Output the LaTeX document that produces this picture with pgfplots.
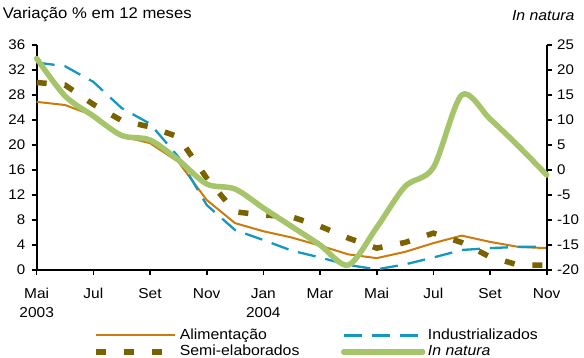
\documentclass[border=0pt]{standalone}
\usepackage{fontspec}
\setmainfont{Liberation Sans}[FakeStretch=1.08]
\usepackage{pgfplots}
\pgfplotsset{compat=1.18}

\definecolor{alim}{RGB}{204,122,10}
\definecolor{indus}{RGB}{20,152,192}
\definecolor{semi}{RGB}{122,98,0}
\definecolor{natura}{RGB}{166,196,106}

\pgfplotsset{
  alimstyle/.style={alim, line width=2bp},
  industyle/.style={indus, line width=2.3bp, dash pattern=on 18bp off 10bp},
  semistyle/.style={semi, line width=5.5bp, dash pattern=on 10bp off 18bp},
  naturastyle/.style={natura, line width=5.5bp, smooth, line join=round, line cap=round},
  base/.style={
    scale only axis, width=510bp, height=225bp,
    at={(0,0)}, anchor=south west,
    xmin=0, xmax=18, clip=false,
    /pgf/number format/assume math mode=true,
    axis line style={-, black, line width=2bp},
    tick style={black, line width=1.6bp},
    major tick length=5bp, tick align=outside,
    ticklabel style={font=\fontsize{14}{16}\selectfont},
  },
}

\begin{document}
\begin{tikzpicture}[font=\fontsize{14.7}{17}\selectfont]
\useasboundingbox (-36.7bp,-88bp) rectangle (547.3bp,270bp);

% left scale: Alimentacao, Industrializados, Semi-elaborados
\begin{axis}[base,
  axis x line*=bottom, axis y line*=left,
  ymin=0, ymax=36, ytick={0,4,...,36},
  xtick={0,2,...,18},
  xticklabels={Mai\\2003,Jul,Set,Nov,Jan\\2004,Mar,Mai,Jul,Set,Nov},
  xticklabel style={align=center, font=\fontsize{14.4}{19}\selectfont, yshift=-10bp},
  yticklabel style={xshift=-3bp},
]
\addplot[alimstyle] coordinates {
 (0,26.9) (1,26.4) (2,24.7) (3,21.4) (4,20.3) (5,17.3) (6,11.2) (7,7.5)
 (8,6.2) (9,5.2) (10,3.9) (11,2.5) (12,1.9) (13,2.9) (14,4.3) (15,5.5)
 (16,4.5) (17,3.7) (18,3.5)};
\addplot[industyle] coordinates {
 (0,33.2) (1,32.6) (2,30.1) (3,25.9) (4,23.4) (5,18.1) (6,10.4) (7,6.4)
 (8,4.8) (9,3.1) (10,2.0) (11,0.8) (12,0.1) (13,0.9) (14,2.0) (15,3.2)
 (16,3.5) (17,3.7) (18,3.7)};
\addplot[semistyle] coordinates {
 (0,30.0) (1,29.6) (2,26.5) (3,23.9) (4,22.9) (5,21.3) (6,14.7) (7,9.3)
 (8,8.8) (9,8.5) (10,7.0) (11,5.1) (12,3.5) (13,4.4) (14,5.9) (15,4.4)
 (16,2.1) (17,0.8) (18,0.8)};
\end{axis}

% right scale: In natura
\begin{axis}[base,
  axis x line=none, axis y line*=right,
  ymin=-20, ymax=25, ytick={-20,-15,...,25},
  yticklabel style={xshift=2bp},
  legend columns=2, legend cell align=left,
  legend image code/.code={\draw[#1] (0bp,0bp) -- (79bp,0bp);},
  legend style={draw=none, fill=none, at={(0,0)}, anchor=north west,
    xshift=56bp, yshift=-57bp, inner sep=0pt,
    font=\fontsize{14.7}{17}\selectfont,
    nodes={inner sep=1.5bp, text height=10.5bp, text depth=3bp},
    /tikz/column 1/.style={column sep=1bp},
    /tikz/column 2/.style={column sep=40bp},
    /tikz/column 3/.style={column sep=1bp}},
]
\addlegendimage{alimstyle}
\addlegendentry{Alimentação}
\addlegendimage{industyle}
\addlegendentry{Industrializados}
\addlegendimage{semistyle}
\addlegendentry{Semi-elaborados}
\addplot[naturastyle] coordinates {
 (0,22.3) (1,14.8) (2,10.8) (3,6.9) (4,6.0) (5,2.0) (6,-2.8) (7,-3.8)
 (8,-7.6) (9,-11.3) (10,-15.0) (11,-19.0) (12,-11.5) (13,-3.3) (14,0.5)
 (15,15.0) (16,10.2) (17,4.8) (18,-1.0)};
\addlegendentry{\textit{In natura}}
\end{axis}

\node[anchor=west, inner sep=0pt, font=\fontsize{15.5}{18}\selectfont] at (-34bp,255bp) {Variação \% em 12 meses};
\node[anchor=east, inner sep=0pt, font=\fontsize{14.7}{17}\selectfont] at (538bp,254bp) {\textit{In natura}};
\end{tikzpicture}
\end{document}
